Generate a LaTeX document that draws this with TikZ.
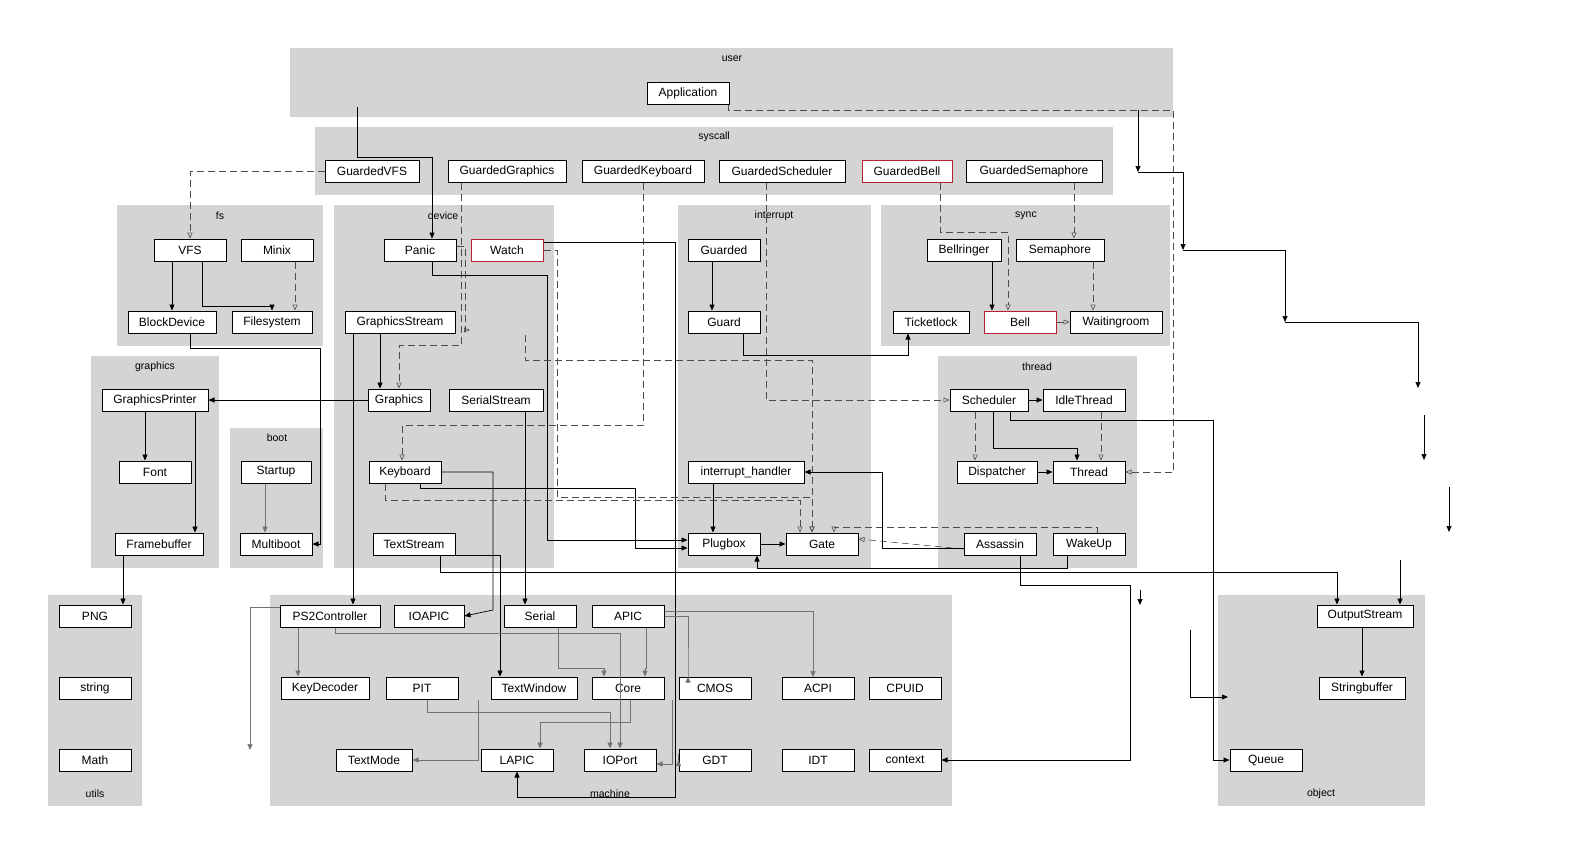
\documentclass[tikz,border=0pt]{standalone}
\usepackage{fontspec}
\setmainfont{Liberation Sans}
\usetikzlibrary{arrows.meta, positioning, calc}

\begin{document}
\begin{tikzpicture}[
    x=1pt, y=-1pt,
    font=\fontsize{12}{14}\selectfont,
    cluster/.style={fill=black!17, draw=none}, % package background
    clabel/.style={font=\fontsize{10.5}{12}\selectfont, inner sep=0pt},
    module/.style={draw, fill=white, line width=1pt, minimum height=22, inner sep=0pt},
    alert/.style={module, draw={rgb,255:red,178;green,34;blue,52}},
    dep/.style={-{Triangle[length=6,width=5]}, line width=0.7pt}, % uses
    impl/.style={-{Triangle[open,length=6,width=5]}, dash pattern=on 7pt off 4pt, line width=0.6pt, black!70},
    weak/.style={-{Triangle[length=6,width=5]}, line width=0.6pt, black!55}
]
    \useasboundingbox (0,0) rectangle (1569,857);

    % === Packages ===
    \fill[cluster] (290,48) rectangle (1173,117);   \node[clabel] (l-user) at (732,59) {user};
    \fill[cluster] (315,127) rectangle (1113,195);  \node[clabel] (l-syscall) at (714,137) {syscall};
    \fill[cluster] (117,205) rectangle (323,346);   \node[clabel] (l-fs) at (220,216) {fs};
    \fill[cluster] (334,205) rectangle (554,568);   \node[clabel] (l-device) at (443,216) {device};
    \fill[cluster] (678,205) rectangle (871,568);   \node[clabel] (l-interrupt) at (774,216) {interrupt};
    \fill[cluster] (881,205) rectangle (1170,346);  \node[clabel] (l-sync) at (1026,216) {sync};
    \fill[cluster] (91,356) rectangle (219,568);    \node[clabel] (l-graphics) at (155,367) {graphics};
    \fill[cluster] (230,428) rectangle (323,568);   \node[clabel] (l-boot) at (277,438) {boot};
    \fill[cluster] (938,356) rectangle (1137,568);  \node[clabel] (l-thread) at (1037,367) {thread};
    \fill[cluster] (48,595) rectangle (142,806);    \node[clabel] (l-utils) at (95,794) {utils};
    \fill[cluster] (270,595) rectangle (952,806);   \node[clabel] (l-machine) at (610,794) {machine};
    \fill[cluster] (1218,595) rectangle (1425,806); \node[clabel] (l-object) at (1321,794) {object};

    % === Modules ===
    \node[module, minimum width=82] (Application) at (688,93) {Application};

    \node[module, minimum width=94]  (GuardedVFS) at (372,171) {GuardedVFS};
    \node[module, minimum width=118] (GuardedGraphics) at (507,171) {GuardedGraphics};
    \node[module, minimum width=122] (GuardedKeyboard) at (643,171) {GuardedKeyboard};
    \node[module, minimum width=126] (GuardedScheduler) at (782,171) {GuardedScheduler};
    \node[alert,  minimum width=90]  (GuardedBell) at (907,171) {GuardedBell};
    \node[module, minimum width=136] (GuardedSemaphore) at (1034,171) {GuardedSemaphore};

    \node[module, minimum width=72] (VFS) at (190,250) {VFS};
    \node[module, minimum width=72] (Minix) at (277,250) {Minix};
    \node[module, minimum width=88] (BlockDevice) at (172,322) {BlockDevice};
    \node[module, minimum width=80] (Filesystem) at (272,322) {Filesystem};

    \node[module, minimum width=72]  (Panic) at (420,250) {Panic};
    \node[alert,  minimum width=72]  (Watch) at (507,250) {Watch};
    \node[module, minimum width=110] (GraphicsStream) at (400,322) {GraphicsStream};
    \node[module, minimum width=62]  (Graphics) at (399,400) {Graphics};
    \node[module, minimum width=94]  (SerialStream) at (496,400) {SerialStream};
    \node[module, minimum width=72]  (Keyboard) at (405,472) {Keyboard};
    \node[module, minimum width=82]  (TextStream) at (414,544) {TextStream};

    \node[module, minimum width=72]  (Guarded) at (724,250) {Guarded};
    \node[module, minimum width=72]  (Guard) at (724,322) {Guard};
    \node[module, minimum width=116] (InterruptHandler) at (746,472) {interrupt\_handler};
    \node[module, minimum width=72]  (Plugbox) at (724,544) {Plugbox};
    \node[module, minimum width=72]  (Gate) at (822,544) {Gate};

    \node[module, minimum width=74] (Bellringer) at (964,250) {Bellringer};
    \node[module, minimum width=88] (Semaphore) at (1060,250) {Semaphore};
    \node[module, minimum width=76] (Ticketlock) at (931,322) {Ticketlock};
    \node[alert,  minimum width=72] (Bell) at (1020,322) {Bell};
    \node[module, minimum width=92] (Waitingroom) at (1116,322) {Waitingroom};

    \node[module, minimum width=106] (GraphicsPrinter) at (155,400) {GraphicsPrinter};
    \node[module, minimum width=72]  (Font) at (155,472) {Font};
    \node[module, minimum width=88]  (Framebuffer) at (159,544) {Framebuffer};

    \node[module, minimum width=70] (Startup) at (276,472) {Startup};
    \node[module, minimum width=72] (Multiboot) at (276,544) {Multiboot};

    \node[module, minimum width=78] (Scheduler) at (989,400) {Scheduler};
    \node[module, minimum width=82] (IdleThread) at (1084,400) {IdleThread};
    \node[module, minimum width=80] (Dispatcher) at (997,472) {Dispatcher};
    \node[module, minimum width=72] (Thread) at (1089,472) {Thread};
    \node[module, minimum width=72] (Assassin) at (1000,544) {Assassin};
    \node[module, minimum width=72] (WakeUp) at (1089,544) {WakeUp};

    \node[module, minimum width=72] (PNG) at (95,616) {PNG};
    \node[module, minimum width=72] (string) at (95,688) {string};
    \node[module, minimum width=72] (Math) at (95,760) {Math};

    \node[module, minimum width=100] (PS2Controller) at (330,616) {PS2Controller};
    \node[module, minimum width=70]  (IOAPIC) at (429,616) {IOAPIC};
    \node[module, minimum width=72]  (Serial) at (540,616) {Serial};
    \node[module, minimum width=72]  (APIC) at (628,616) {APIC};
    \node[module, minimum width=88]  (KeyDecoder) at (325,688) {KeyDecoder};
    \node[module, minimum width=72]  (PIT) at (422,688) {PIT};
    \node[module, minimum width=86]  (TextWindow) at (534,688) {TextWindow};
    \node[module, minimum width=72]  (Core) at (628,688) {Core};
    \node[module, minimum width=72]  (CMOS) at (715,688) {CMOS};
    \node[module, minimum width=72]  (ACPI) at (818,688) {ACPI};
    \node[module, minimum width=72]  (CPUID) at (905,688) {CPUID};
    \node[module, minimum width=76]  (TextMode) at (374,760) {TextMode};
    \node[module, minimum width=72]  (LAPIC) at (517,760) {LAPIC};
    \node[module, minimum width=72]  (IOPort) at (620,760) {IOPort};
    \node[module, minimum width=72]  (GDT) at (715,760) {GDT};
    \node[module, minimum width=72]  (IDT) at (818,760) {IDT};
    \node[module, minimum width=72]  (context) at (905,760) {context};

    \node[module, minimum width=96] (OutputStream) at (1365,616) {OutputStream};
    \node[module, minimum width=86] (Stringbuffer) at (1362,688) {Stringbuffer};
    \node[module, minimum width=72] (Queue) at (1266,760) {Queue};

    % === user / syscall ===
    \draw[dep] (357,107) |- (432,157) -- ([xshift=12]Panic.north);
    \draw[impl] ([xshift=40]Application.south) |- (1173,110) |- (Thread.east);
    \draw[dep] (1138,110) -- (1138,172);
    \draw[dep] (1138,172) -| (1183,250);
    \draw[dep] (1183,250) -| (1285,322);
    \draw[dep] (1285,322) -| (1418,388);
    \draw[dep] (1424,415) -- (1424,460);
    \draw[dep] (1449,487) -- (1449,532);
    \draw[dep] (1400,560) -- ([xshift=35]OutputStream.north);
    \draw[dep] (1140,590) -- (1140,605);
    \draw[dep] (1190,630) |- (1228,697);
    \draw[impl] (GuardedVFS.west) -| (VFS.north);
    \draw[impl] ([xshift=-46]GuardedGraphics.south) |- (399,345) -- (Graphics.north);
    \draw[impl] (GuardedKeyboard.south) |- (402,425) -- ([xshift=-3]Keyboard.north);
    \draw[impl] ([xshift=-16]GuardedScheduler.south) |- (Scheduler.west);
    \draw[impl] ([xshift=33]GuardedBell.south) |- (1008,232) -- ([xshift=-12]Bell.north);
    \draw[impl] ([xshift=40]GuardedSemaphore.south) -- ([xshift=14]Semaphore.north);

    % === fs / graphics / boot ===
    \draw[dep] ([xshift=-18]VFS.south) -- ([xshift=-18]VFS.south |- BlockDevice.north);
    \draw[dep] ([xshift=12]VFS.south) |- (272,306) -- (Filesystem.north);
    \draw[impl] ([xshift=18]Minix.south) -- ([xshift=18]Minix.south |- Filesystem.north);
    \draw[dep] ([xshift=18]BlockDevice.south) |- (320,348) |- (Multiboot.east);
    \draw[dep] (Graphics.west) -- (GraphicsPrinter.east);
    \draw[dep] ([xshift=-10]GraphicsPrinter.south) -- (Font.north -| 145,0);
    \draw[dep] ([xshift=40]GraphicsPrinter.south) -- (Framebuffer.north -| 195,0);
    \draw[dep] ([xshift=-36]Framebuffer.south) -- (PNG.north -| 123,0);
    \draw[weak] ([xshift=-11]Startup.south) -- (Multiboot.north -| 265,0);

    % === device ===
    \draw[dep] ([xshift=-20]GraphicsStream.south) -- (Graphics.north -| 380,0);
    \draw[dep] ([xshift=-47]GraphicsStream.south) -- ([xshift=-47]GraphicsStream.south |- PS2Controller.north);
    \draw[dep] ([xshift=29]SerialStream.south) -- ([xshift=29]SerialStream.south |- Serial.north);
    \draw[dep] ([xshift=41]TextStream.south) -| ([xshift=-34]TextWindow.north);
    \draw[dep] ([xshift=26]TextStream.south) |- (1337,572) -- ([xshift=-28]OutputStream.north);
    \draw[dep] (Keyboard.east) -| (493,610) -- (IOAPIC.east);
    \draw[dep] ([xshift=15]Keyboard.south) |- (635,488) |- ([yshift=-4]Plugbox.west);
    \draw[dep] ([xshift=12]Panic.south) |- (547,275) |- ([yshift=4]Plugbox.west);
    \draw[dep] ([yshift=8]Watch.east) -| (675,797) -| (LAPIC.south);
    \draw[impl] ([yshift=4]Panic.east) -| (465,330) -- (470,330);
    \draw[impl] (Watch.east) -| (557,497) -| ([xshift=-10]Gate.north);
    \draw[impl] ([xshift=-20]Keyboard.south) |- (800,500) -- ([xshift=-22]Gate.north);
    \draw[impl] (525,335) |- (812,360) -- ([xshift=-10]Gate.north);

    % === interrupt / sync / thread ===
    \draw[dep] ([xshift=-12]Guarded.south) -- ([xshift=-12]Guard.north);
    \draw[dep] ([xshift=19]Guard.south) |- (908,355) -- (Ticketlock.south -| 908,0);
    \draw[dep] ([xshift=-33]InterruptHandler.south) -- ([xshift=-11]Plugbox.north);
    \draw[dep] (Plugbox.east) -- (Gate.west);
    \draw[dep] ([xshift=28]Bellringer.south) -- ([xshift=-28]Bell.north);
    \draw[impl] ([xshift=33]Semaphore.south) -- ([xshift=-23]Waitingroom.north);
    \draw[impl] (Bell.east) -- (Waitingroom.west);
    \draw[dep] (Scheduler.east) -- (IdleThread.west);
    \draw[impl] ([xshift=-14]Scheduler.south) -- ([xshift=-22]Dispatcher.north);
    \draw[dep] ([xshift=4]Scheduler.south) |- (1077,448) -- ([xshift=-12]Thread.north);
    \draw[impl] ([xshift=17]IdleThread.south) -- ([xshift=12]Thread.north);
    \draw[dep] (Dispatcher.east) -- (Thread.west);
    \draw[dep] ([xshift=21]Scheduler.south) |- (1213,420) |- (Queue.west);
    \draw[impl] (Assassin.west |- 0,549) -- ([yshift=5]Gate.east);
    \draw[impl] ([xshift=8]WakeUp.north) |- (834,527) -- ([xshift=12]Gate.north);
    \draw[dep] ([yshift=-4]Assassin.west) -| (882,472) -- (InterruptHandler.east);
    \draw[dep] ([xshift=20]Assassin.south) |- (1130,585) |- (context.east);
    \draw[dep] ([xshift=-22]WakeUp.south) |- (757,568) -- ([xshift=33]Plugbox.south);
    \draw[dep] (OutputStream.south -| 1362,0) -- (Stringbuffer.north);

    % === machine ===
    \draw[weak] ([xshift=-32]PS2Controller.south) -- (KeyDecoder.north -| 298,0);
    \draw[weak] ([xshift=5]PS2Controller.south) |- (620,633) -- (IOPort.north);
    \draw[weak] ([yshift=9]PS2Controller.west) -| (250,750);
    \draw[weak] ([xshift=2]Core.south) |- (540,722) -- ([xshift=23]LAPIC.north);
    \draw[weak] ([xshift=-56]TextWindow.south) |- (TextMode.east);
    \draw[weak] ([xshift=18]Serial.south) |- (604,668) -- ([xshift=-24]Core.north);
    \draw[weak] (APIC.east) -| (688,677) -- (CMOS.north -| 688,0);
    \draw[weak] ([yshift=5]APIC.east) -| (813,677);
    \draw[weak] ([xshift=18]APIC.south) |- (645,668) -- ([xshift=17]Core.north);
    \draw[weak] ([xshift=5]PIT.south) |- (610,712) -- ([xshift=-10]IOPort.north);
    \draw[weak] ([xshift=-43]CMOS.south) |- ([yshift=-4]IOPort.east);
    \draw[weak] (GDT.west) -- (IOPort.east -| GDT.west);
\end{tikzpicture}
\end{document}
